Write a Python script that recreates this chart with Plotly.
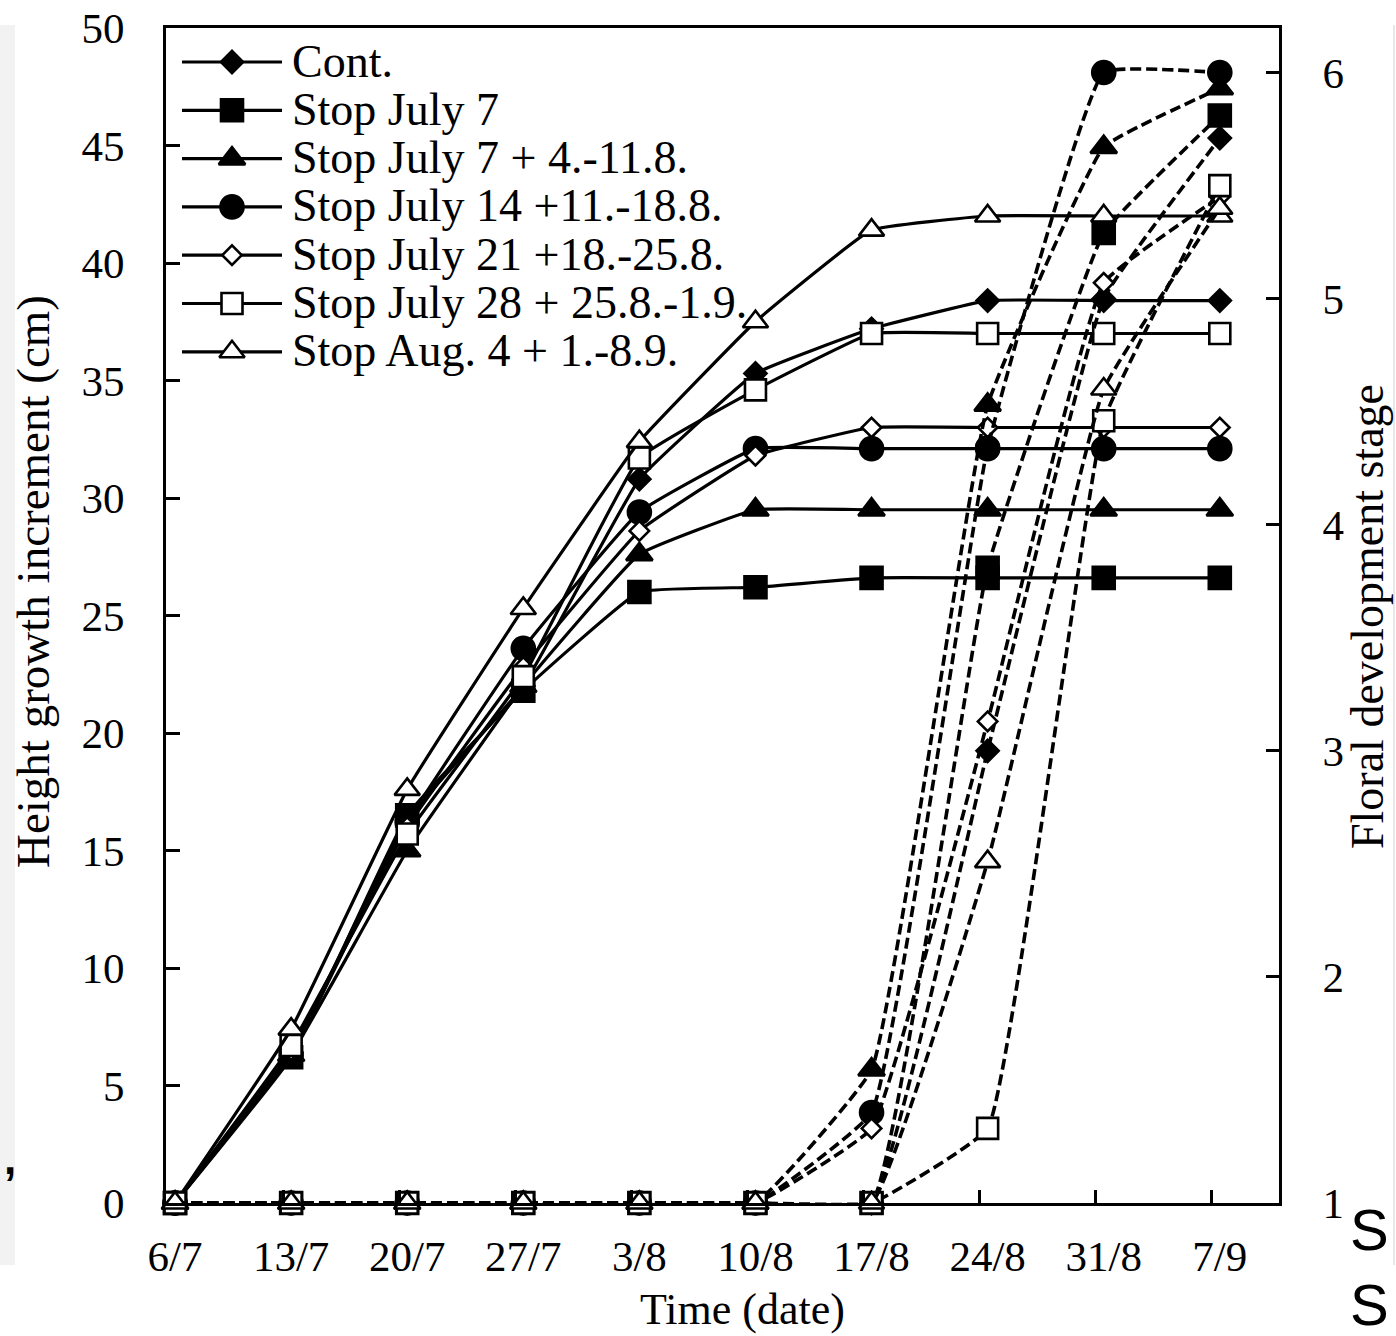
import plotly.graph_objects as go

# ---- data -------------------------------------------------------------
dates = ["6/7", "13/7", "20/7", "27/7", "3/8", "10/8", "17/8", "24/8", "31/8", "7/9"]

treatments = [
    "Cont.",
    "Stop July 7",
    "Stop July 7 + 4.-11.8.",
    "Stop July 14 +11.-18.8.",
    "Stop July 21 +18.-25.8.",
    "Stop July 28 + 25.8.-1.9.",
    "Stop Aug. 4 + 1.-8.9.",
]

# height growth increment (cm), left axis
height_cont = [0, 6.4, 16.3, 22.0, 30.8, 35.3, 37.2, 38.4, 38.4, 38.4]
height_jul7 = [0, 6.2, 16.5, 21.8, 26.0, 26.2, 26.6, 26.6, 26.6, 26.6]
height_jul7_4 = [0, 6.3, 15.0, 22.0, 27.6, 29.5, 29.5, 29.5, 29.5, 29.5]
height_jul14 = [0, 6.3, 16.2, 23.6, 29.4, 32.1, 32.1, 32.1, 32.1, 32.1]
height_jul21 = [0, 6.5, 16.0, 22.8, 28.6, 31.8, 33.0, 33.0, 33.0, 33.0]
height_jul28 = [0, 6.7, 15.7, 22.4, 31.7, 34.6, 37.0, 37.0, 37.0, 37.0]
height_aug4 = [0, 7.4, 17.6, 25.3, 32.4, 37.5, 41.4, 42.0, 42.0, 42.0]

# floral development stage, right axis
stage_cont = [1, 1, 1, 1, 1, 1, 1, 3.00, 5.00, 5.71]
stage_jul7 = [1, 1, 1, 1, 1, 1, 1, 3.81, 5.29, 5.81]
stage_jul7_4 = [1, 1, 1, 1, 1, 1, 1.59, 4.53, 5.67, 5.93]
stage_jul14 = [1, 1, 1, 1, 1, 1, 1.40, 4.34, 6.00, 6.00]
stage_jul21 = [1, 1, 1, 1, 1, 1, 1.33, 3.13, 5.07, 5.45]
stage_jul28 = [1, 1, 1, 1, 1, 1, 1, 1.33, 4.46, 5.50]
stage_aug4 = [1, 1, 1, 1, 1, 1, 1, 2.51, 4.60, 5.40]

height_series = [height_cont, height_jul7, height_jul7_4, height_jul14,
                 height_jul21, height_jul28, height_aug4]
stage_series = [stage_cont, stage_jul7, stage_jul7_4, stage_jul14,
                stage_jul21, stage_jul28, stage_aug4]

# ---- styles -----------------------------------------------------------
markers = [
    dict(symbol="diamond", size=17, color="black"),
    dict(symbol="square", size=22, color="black"),
    dict(symbol="triangle-up", size=23, color="black"),
    dict(symbol="circle", size=23, color="black"),
    dict(symbol="diamond", size=15, color="white"),
    dict(symbol="square", size=21, color="white"),
    dict(symbol="triangle-up", size=22, color="white"),
]

SERIF = "Liberation Serif, Times New Roman, serif"
SANS = "Liberation Sans, Arial, sans-serif"
W, H = 1396, 1336
L, R, T, B = 166, 117, 28, 133
PW, PH = W - L - R, H - T - B
SMOOTH = 0.3


def px_x(p):
    return (p - L) / PW


def px_y(p):
    return (H - B - p) / PH


def marker_style(mk):
    return dict(symbol=mk["symbol"], size=mk["size"], color=mk["color"],
                line=dict(color="black", width=2.6))


xpos = list(range(len(dates)))
fig = go.Figure()

# solid lines: height growth
for name, ys, mk in zip(treatments, height_series, markers):
    fig.add_trace(go.Scatter(
        x=xpos, y=ys, name=name, mode="lines+markers", showlegend=False,
        line=dict(color="black", width=3.2, shape="spline", smoothing=SMOOTH),
        marker=marker_style(mk), cliponaxis=False,
    ))

# dashed lines: floral development
for name, ys, mk in zip(treatments, stage_series, markers):
    fig.add_trace(go.Scatter(
        x=xpos, y=ys, name=name, mode="lines+markers", showlegend=False,
        yaxis="y2",
        line=dict(color="black", width=3.6, dash="11px,5px", shape="spline", smoothing=SMOOTH),
        marker=marker_style(mk), cliponaxis=False,
    ))

# tick-mark axis (ticks sit slightly left of the category centres)
fig.add_trace(go.Scatter(x=[None], y=[None], xaxis="x4", showlegend=False, hoverinfo="skip"))

# legend box drawn in pixel coordinates of the plotting area
row0, row_step = 62, 48.3
annotations = []
for i, (name, mk) in enumerate(zip(treatments, markers)):
    yy = row0 + row_step * i
    fig.add_trace(go.Scatter(
        x=[182, 282], y=[yy, yy], xaxis="x3", yaxis="y3",
        mode="lines", showlegend=False, hoverinfo="skip",
        line=dict(color="black", width=3.2), cliponaxis=False,
    ))
    fig.add_trace(go.Scatter(
        x=[232], y=[yy], xaxis="x3", yaxis="y3",
        mode="markers", showlegend=False, hoverinfo="skip",
        marker=marker_style(mk), cliponaxis=False,
    ))
    annotations.append(dict(
        x=290, y=yy - 1, xref="x3", yref="y3", text=name, showarrow=False,
        xanchor="left", yanchor="middle", font=dict(family=SERIF, size=46, color="black"),
    ))

# axis titles
annotations += [
    dict(x=px_x(742), y=px_y(1309), xref="paper", yref="paper", text="Time (date)",
         showarrow=False, xanchor="center", yanchor="middle",
         font=dict(family=SERIF, size=44, color="black")),
    dict(x=px_x(33), y=px_y(582), xref="paper", yref="paper",
         text="Height growth increment (cm)", textangle=-90,
         showarrow=False, xanchor="center", yanchor="middle",
         font=dict(family=SERIF, size=47, color="black")),
    dict(x=px_x(1367), y=px_y(617), xref="paper", yref="paper",
         text="Floral development stage", textangle=-90,
         showarrow=False, xanchor="center", yanchor="middle",
         font=dict(family=SERIF, size=46, color="black")),
    # fragments of surrounding page text
    dict(x=px_x(2), y=px_y(1158), xref="paper", yref="paper", text="<b>,</b>",
         showarrow=False, xanchor="left", yanchor="middle",
         font=dict(family=SANS, size=44, color="black")),
    dict(x=px_x(1348), y=px_y(1229), xref="paper", yref="paper", text="S",
         showarrow=False, xanchor="left", yanchor="middle",
         font=dict(family=SANS, size=58, color="black")),
    dict(x=px_x(1348), y=px_y(1304), xref="paper", yref="paper", text="S",
         showarrow=False, xanchor="left", yanchor="middle",
         font=dict(family=SANS, size=58, color="black")),
]

shapes = [
    dict(type="rect", xref="paper", yref="paper", x0=px_x(0), x1=px_x(15),
         y0=px_y(25), y1=px_y(1265), fillcolor="#f2f2f2", line=dict(width=0), layer="below"),
    dict(type="line", xref="paper", yref="paper", x0=px_x(1394), x1=px_x(1394),
         y0=px_y(25), y1=px_y(1265), line=dict(color="#e8e8e8", width=2)),
]

xrange = [-0.078, 9.51]
axis_common = dict(showgrid=False, zeroline=False, linecolor="black", linewidth=2.6,
                   tickcolor="black", tickwidth=2.6, automargin=False)

fig.update_layout(
    width=W, height=H,
    margin=dict(l=L, r=R, t=T, b=B, pad=0, autoexpand=False),
    paper_bgcolor="white", plot_bgcolor="white",
    font=dict(family=SERIF, color="black"),
    showlegend=False,
    xaxis=dict(range=xrange, tickvals=xpos, ticktext=dates, ticks="",
               showline=True, mirror=True, tickfont=dict(size=43),
               ticklabelstandoff=14, **axis_common),
    xaxis4=dict(range=xrange, overlaying="x", anchor="y", side="bottom",
                tickvals=[v - 0.07 for v in xpos], ticks="inside", ticklen=13,
                showticklabels=False, showline=False, **axis_common),
    yaxis=dict(range=[0, 50], tickvals=list(range(0, 51, 5)), ticks="inside",
               ticklen=14, showline=True, tickfont=dict(size=43),
               ticklabelstandoff=30, **axis_common),
    yaxis2=dict(range=[1, 6.197], tickvals=[1, 2, 3, 4, 5, 6], ticks="inside",
                ticklen=13, overlaying="y", side="right", anchor="x",
                showline=True, tickfont=dict(size=43),
                ticklabelstandoff=32, **axis_common),
    xaxis3=dict(range=[L, W - R], overlaying="x", anchor="y3", visible=False,
                fixedrange=True, automargin=False),
    yaxis3=dict(range=[H - B, T], overlaying="y", anchor="x3", visible=False,
                fixedrange=True, automargin=False),
    annotations=annotations,
    shapes=shapes,
)

fig.write_html("out.html")
